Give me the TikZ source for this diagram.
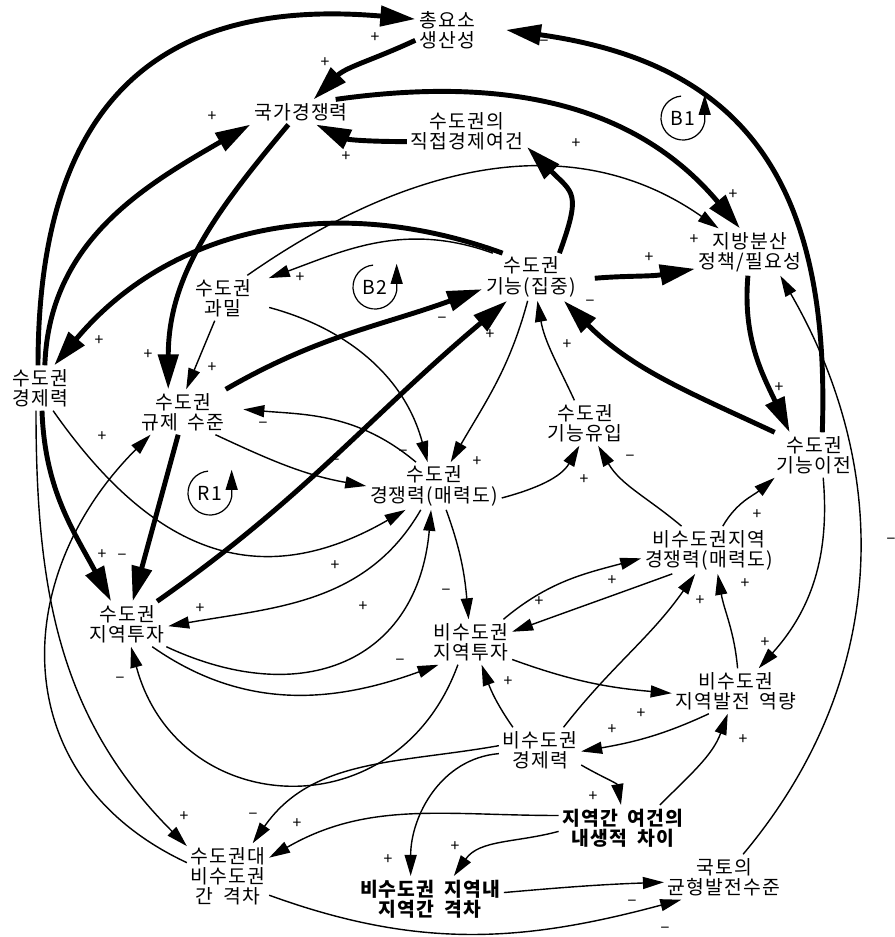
\documentclass[tikz,border=0pt]{standalone}
\usepackage{fontspec}
\newfontfamily\kr[LetterSpace=6]{Noto Sans CJK KR}
\usetikzlibrary{arrows.meta}

\begin{document}
\begin{tikzpicture}[x=0.02cm,y=0.02cm]
    \tikzset{
    var/.style={align=center,inner sep=2pt,font=\kr\fontsize{11}{11.5}\selectfont},
    varb/.style={var,font=\kr\bfseries\fontsize{11}{11.5}\selectfont},
    thk/.style={line width=2.8pt,-{Triangle[length=0.7cm,width=0.4cm]}},
    thn/.style={line width=0.8pt,-{Triangle[length=0.42cm,width=0.24cm]}},
    sgn/.style={inner sep=0pt,font=\kr\fontsize{9}{9}\selectfont},
    loopc/.style={line width=0.7pt,-{Triangle[length=0.4cm,width=0.24cm]}},
    looplbl/.style={inner sep=0pt,font=\kr\fontsize{11}{11}\selectfont},
    }
    \useasboundingbox (0,0) rectangle (895,-937);

    \node[var] (tfp) at (447,-30) {총요소\\생산성};
    \node[var] (nc) at (301,-112) {국가경쟁력};
    \node[var] (dir) at (467,-131) {수도권의\\직접경제여건};
    \node[var] (dec) at (750,-252) {지방분산\\정책/필요성};
    \node[var] (fun) at (531,-277) {수도권\\기능(집중)};
    \node[var] (over) at (223,-298) {수도권\\과밀};
    \node[var] (cap) at (40,-388) {수도권\\경제력};
    \node[var] (reg) at (183,-412) {수도권\\규제\enspace 수준};
    \node[var] (inf) at (585,-423) {수도권\\기능유입};
    \node[var] (tra) at (814,-455) {수도권\\기능이전};
    \node[var] (mcomp) at (434,-486) {수도권\\경쟁력(매력도)};
    \node[var] (ncomp) at (709,-550) {비수도권지역\\경쟁력(매력도)};
    \node[var] (minv) at (127,-624) {수도권\\지역투자};
    \node[var] (ninv) at (471,-642) {비수도권\\지역투자};
    \node[var] (ncap) at (736,-691) {비수도권\\지역발전\enspace 역량};
    \node[var] (necon) at (540,-750) {비수도권\\경제력};
    \node[varb] (endo) at (623,-828) {지역간\enspace 여건의\\내생적\enspace 차이};
    \node[var] (gap) at (228,-876) {수도권대\\비수도권\\간\enspace 격차};
    \node[varb] (ngap) at (430,-899) {비수도권\enspace 지역내\\지역간\enspace 격차};
    \node[var] (bal) at (724,-877) {국토의\\균형발전수준};

    % loop markers
    \node[looplbl] (b1) at (683,-118) {B1};
    \node[looplbl] (b2) at (375,-287) {B2};
    \node[looplbl] (r1) at (210,-493) {R1};
    \draw[loopc] (b1.center) ++(95:22) arc (95:350:22) -- ++(0,27);
    \draw[loopc] (b2.center) ++(95:22) arc (95:350:22) -- ++(0,27);
    \draw[loopc] (r1.center) ++(95:22) arc (95:350:22) -- ++(0,27);

    % thick links
    \draw[thk] (cap.95) to[out=90,in=175,looseness=1.3] (tfp.161);
    \draw[thk] (tfp.198) to[out=205,in=45] (nc.45);
    \draw[thk] (cap.78) to[out=88,in=210] (nc.194);
    \draw[thk] (nc.225) to[out=230,in=90] (reg.123);
    \draw[thk] (nc.20) to[out=8,in=130] (dec.113);
    \draw[thk] (dir.190) to[out=180,in=335] (nc.320);
    \draw[thk] (fun.40) to[out=70,in=315,looseness=1.5] (dir.345);
    \draw[thk] (fun.140) to[out=160,in=50] (cap.58);
    \draw[thk,shorten <=0.3cm] (fun.357) to[out=5,in=190] (dec.197);
    \draw[thk] (dec.265) to[out=265,in=115] (tra.137);
    \draw[thk,shorten >=0.55cm] (tra.70) to[out=88,in=-8,looseness=1.25] (tfp.7);
    \draw[thk] (tra.150) to[out=155,in=315] (fun.324);
    \draw[thk] (reg.28) to[out=30,in=200] (fun.194);
    \draw[thk] (minv.37) to[out=35,in=220] (fun.225);
    \draw[thk] (cap.275) to[out=272,in=118] (minv.125);
    \draw[thk] (reg.258) -- (minv.76);

    % thin links
    \draw[thn] (over.43) to[out=35,in=145] (dec.143);
    \draw[thn,shorten >=0.3cm] (fun.148) to[out=160,in=20] (over.25);
    \draw[thn] (over.250) -- (reg.82);
    \draw[thn,shorten <=0.3cm] (over.350) to[out=-15,in=105] (mcomp.105);
    \draw[thn] (fun.262) to[out=255,in=60] (mcomp.55);
    \draw[thn,shorten >=0.3cm] (mcomp.127) to[out=140,in=-5] (reg.5);
    \draw[thn] (reg.325) to[out=335,in=170] (mcomp.180);
    \draw[thn] (mcomp.350) to[out=15,in=240] (inf.256);
    \draw[thn] (inf.115) to[out=115,in=280] (fun.285);
    \draw[thn] (ncomp.139) to[out=140,in=300] (inf.300);
    \draw[thn] (ncomp.60) to[out=60,in=220] (tra.210);
    \draw[thn] (tra.292) to[out=275,in=48] (ncap.45);
    \draw[thn] (cap.300) to[out=305,in=210,looseness=1.2] (mcomp.220);
    \draw[thn] (mcomp.241) to[out=240,in=10] (minv.357);
    \draw[thn] (minv.330) to[out=335,in=265,looseness=1.3] (mcomp.263);
    \draw[thn] (minv.318) to[out=325,in=200] (ninv.215);
    \draw[thn] (ninv.240) to[out=250,in=285,looseness=1.4] (minv.280);
    \draw[thn] (mcomp.297) to[out=290,in=95] (ninv.96);
    \draw[thn] (ninv.35) to[out=40,in=195] (ncomp.187);
    \draw[thn] (ncomp.213) to[out=200,in=20] (ninv.14);
    \draw[thn] (ninv.337) to[out=340,in=175] (ncap.182);
    \draw[thn] (necon.140) to[out=125,in=290] (ninv.295);
    \draw[thn] (necon.44) to[out=52,in=235] (ncomp.240);
    \draw[thn] (ncap.86) to[out=95,in=280] (ncomp.290);
    \draw[thn] (ncap.220) to[out=205,in=10] (necon.358);
    \draw[thn] (endo.32) to[out=45,in=250] (ncap.250);
    \draw[thn] (necon.340) to[out=330,in=100] (endo.95);
    \draw[thn] (necon.174) to[out=190,in=55] (gap.53);
    \draw[thn] (necon.185) to[out=185,in=90] (ngap.130);
    \draw[thn] (endo.169) to[out=180,in=30] (gap.24);
    \draw[thn] (endo.183) to[out=195,in=55] (ngap.44);
    \draw[thn] (cap.260) to[out=270,in=135] (gap.144);
    \draw[thn] (gap.162) to[out=155,in=225,looseness=1.2] (reg.215);
    \draw[thn] (ngap.5) to[out=5,in=182] (bal.185);
    \draw[thn] (gap.335) to[out=340,in=195] (bal.208);
    \draw[thn] (bal.50) to[out=50,in=300] (dec.322);

    % polarity signs
    \foreach \x/\y [count=\i] in {375/38,325/63,212/117,346/157,576/144,733/195,694/240,649/258,300/278,99/341,148/355,212/368,102/437,490/335,567/345,477/462,584/480,779/388,757/515,102/555,335/566,200/609,363/607,539/602,612/581,700/601,745/584,765/643,508/682,641/714,612/730,743/740,593/797,184/817,297/824,388/860,455/847}
        \node[sgn] (p\i) at (\x,-\y) {+};
    \foreach \x/\y [count=\i] in {544/43,442/320,590/303,263/425,335/462,403/453,630/458,122/557,446/592,400/662,120/680,253/816,632/903,665/930,891/541}
        \node[sgn] (m\i) at (\x,-\y) {−};

\end{tikzpicture}
\end{document}
